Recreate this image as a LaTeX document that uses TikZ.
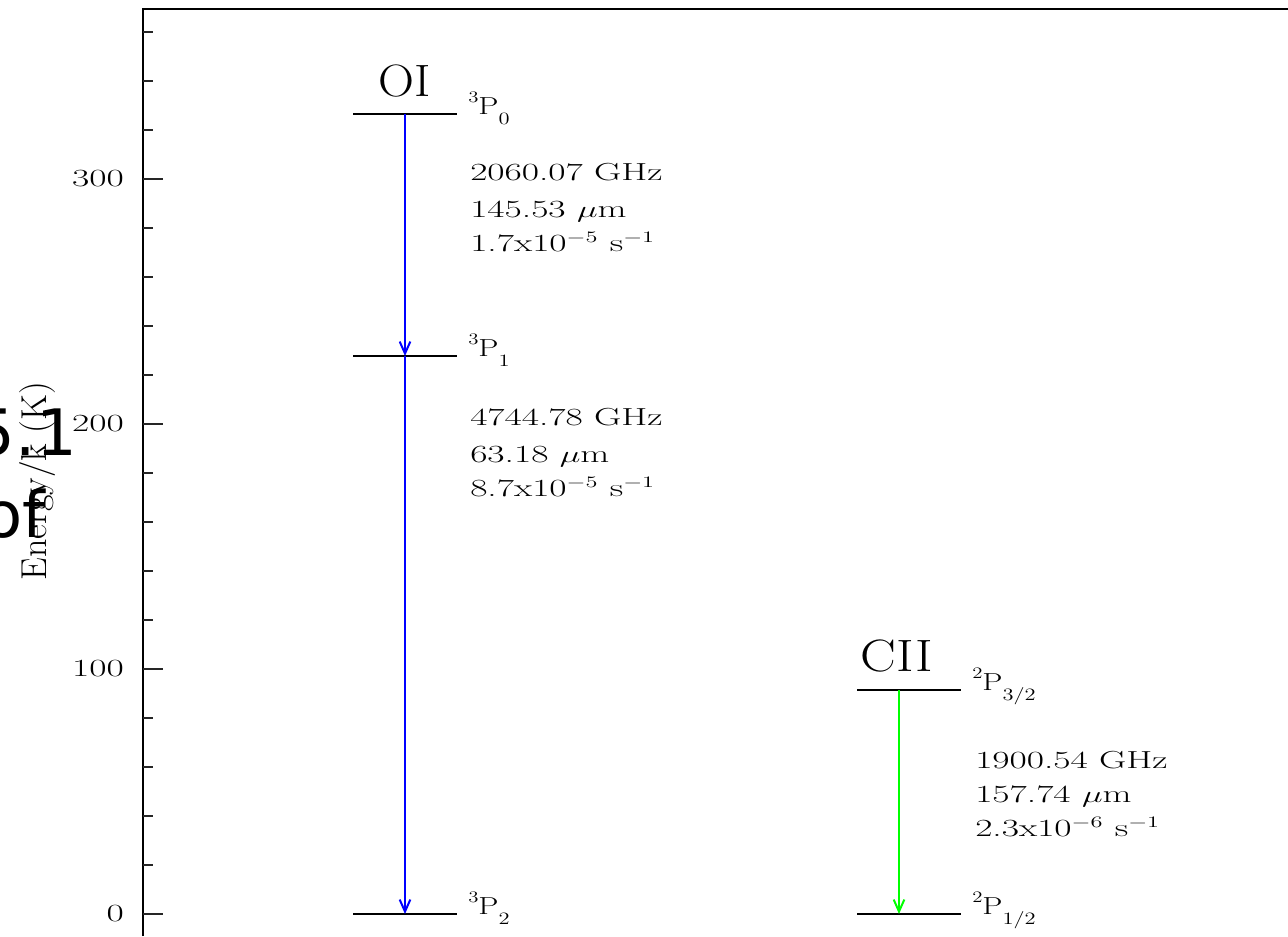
\documentclass[tikz,border=0pt]{standalone}
\usepackage{fontspec}
\usepackage{graphicx}
\newfontfamily\artfont{DejaVu Sans}
\usetikzlibrary{arrows.meta}
\newcommand{\pgt}[1]{\scalebox{1.52}[1]{#1}}
\newcommand{\levlab}[3]{\scalebox{1.3}[1]{\raisebox{0.47em}{\fontsize{12}{12}\selectfont #1}P\raisebox{-0.42em}{\fontsize{13}{13}\selectfont #2}}}
\begin{document}
\begin{tikzpicture}[x=0.75pt,y=-0.75pt,
  font=\fontsize{18.5}{22}\selectfont,
  axisline/.style={line width=1.5pt,black},
  tickline/.style={line width=0.8pt,black!85},
  levelline/.style={line width=0.8pt,black},
  trans/.style={line width=1.5pt,-{Straight Barb[length=9pt,width=8pt]}},
  ticklab/.style={anchor=east,inner sep=0pt},
  txt/.style={anchor=base west,inner sep=0pt},
  ionlab/.style={anchor=base,inner sep=0pt,font=\fontsize{34}{34}\selectfont},
  artlab/.style={anchor=base east,inner sep=0pt,font=\artfont\fontsize{48}{48}\selectfont}]
\useasboundingbox (0,0) rectangle (1288,936);
\clip (0,0) rectangle (1288,936);
% axes
\draw[axisline] (143,936) -- (143,9) -- (1300,9);
\foreach \e in {0,20,...,360}{
  \draw[tickline] (143,{914-2.45*\e}) -- (153,{914-2.45*\e});
}
\foreach \e in {0,100,200,300}{
  \draw[tickline] (143,{914-2.45*\e}) -- (163,{914-2.45*\e});
  \node[ticklab] (tl\e) at (124,{914-2.45*\e}) {\pgt{\e}};
}
% axis label
\node[rotate=90,anchor=base,inner sep=0pt,font=\fontsize{27}{27}\selectfont] (ylab) at (46,481) {Energy/k (K)};
% stray text
\node[artlab] (art1) at (77,455) {5.1};
\node[artlab] (art2) at (45,537) {of};
% OI levels
\coordinate (oiA) at (405,114);
\coordinate (oiB) at (405,356);
\coordinate (oiC) at (405,914);
\draw[levelline] (353,114) -- (457,114);
\draw[levelline] (353,356) -- (457,356);
\draw[levelline] (353,914) -- (457,914);
\node[ionlab] (oi) at (405,96) {\scalebox{1.1}[1]{OI}};
\node[txt] (lA) at (468,114) {\levlab{3}{0}{}};
\node[txt] (lB) at (468,356) {\levlab{3}{1}{}};
\node[txt] (lC) at (468,914) {\levlab{3}{2}{}};
\draw[trans,blue] (oiA) -- (oiB);
\draw[trans,blue] (oiB) -- (oiC);
% OI transition text
\node[txt] (t1a) at (470,180) {\pgt{2060.07 GHz}};
\node[txt] (t1b) at (470,217) {\pgt{145.53 $\mu$m}};
\node[txt] (t1c) at (470,251) {\pgt{1.7x10$^{-5}$ s$^{-1}$}};
\node[txt] (t2a) at (470,425) {\pgt{4744.78 GHz}};
\node[txt] (t2b) at (470,462) {\pgt{63.18 $\mu$m}};
\node[txt] (t2c) at (470,496) {\pgt{8.7x10$^{-5}$ s$^{-1}$}};
% CII levels
\coordinate (ciiA) at (899,690);
\coordinate (ciiB) at (899,914);
\draw[levelline] (857,690) -- (961,690);
\draw[levelline] (857,914) -- (961,914);
\node[ionlab] (cii) at (897,671) {\scalebox{1.18}[1]{CII}};
\node[txt] (lD) at (972,690) {\levlab{2}{3/2}{}};
\node[txt] (lE) at (972,914) {\levlab{2}{1/2}{}};
\draw[trans,green] (ciiA) -- (ciiB);
\node[txt] (t3a) at (975,768) {\pgt{1900.54 GHz}};
\node[txt] (t3b) at (975,802) {\pgt{157.74 $\mu$m}};
\node[txt] (t3c) at (975,836) {\pgt{2.3x10$^{-6}$ s$^{-1}$}};
\end{tikzpicture}
\end{document}
